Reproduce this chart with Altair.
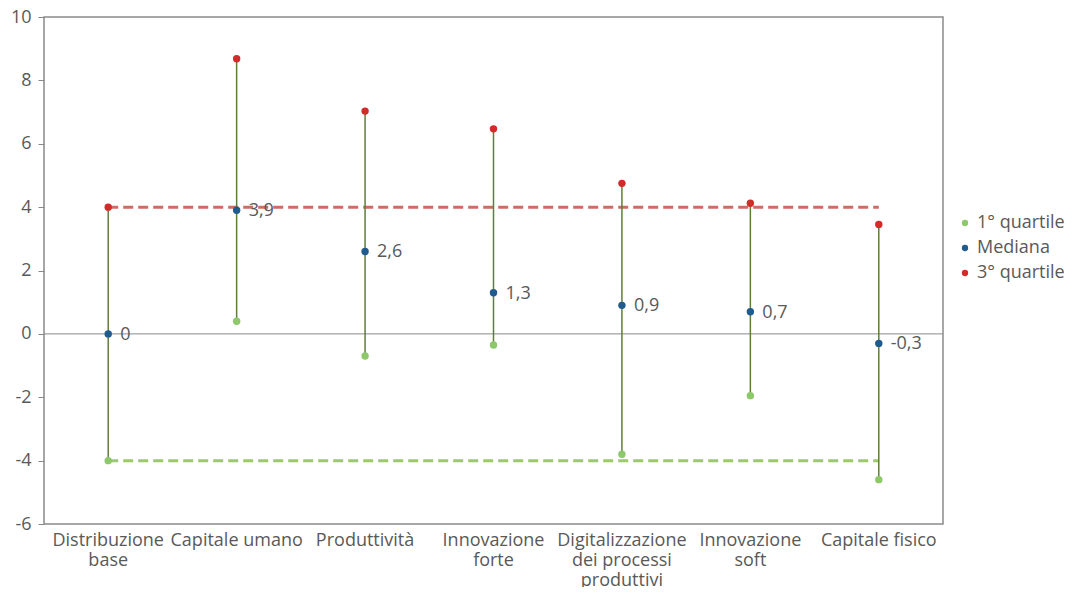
import altair as alt
import pandas as pd

categories = ["Distribuzione|base", "Capitale umano", "Produttività", "Innovazione|forte",
              "Digitalizzazione|dei processi|produttivi", "Innovazione|soft", "Capitale fisico"]
q1 = [-4.0, 0.4, -0.7, -0.35, -3.8, -1.95, -4.6]
median = [0.0, 3.9, 2.6, 1.3, 0.9, 0.7, -0.3]
q3 = [4.0, 8.68, 7.03, 6.47, 4.75, 4.12, 3.45]
median_labels = ["0", "3,9", "2,6", "1,3", "0,9", "0,7", "-0,3"]
series = ["1° quartile", "Mediana", "3° quartile"]
series_colors = ["#8dc86a", "#1f5b8e", "#d42a2a"]
ref_q3 = 4.0
ref_q1 = -4.0

wide = pd.DataFrame({"cat": categories, "q1": q1, "med": median, "q3": q3, "lab": median_labels})
wide["lo"] = wide[["q1", "q3"]].min(axis=1)
wide["hi"] = wide[["q1", "q3"]].max(axis=1)
long = pd.DataFrame({
    "cat": categories * 3,
    "serie": [series[0]] * 7 + [series[1]] * 7 + [series[2]] * 7,
    "val": q1 + median + q3,
})
refs = pd.DataFrame({
    "cat": [categories[0], categories[-1], categories[0], categories[-1]],
    "val": [ref_q3, ref_q3, ref_q1, ref_q1],
    "grp": ["r", "r", "g", "g"],
})

FONT = "Open Sans"
GRAY = "#595959"
FS = 18

xenc = alt.X("cat:N", sort=categories,
             scale=alt.Scale(paddingInner=0, paddingOuter=0),
             axis=alt.Axis(title=None, labelAngle=0, ticks=False, domain=False,
                           labelExpr="split(datum.label, '|')", labelFontSize=FS,
                           labelColor=GRAY, labelFont=FONT, labelPadding=7,
                           labelLineHeight=20, labelBaseline="top"))
yscale = alt.Scale(domain=[-6, 10])
yaxis = alt.Axis(title=None, values=list(range(-6, 11, 2)), grid=False,
                 labelFontSize=FS, labelColor=GRAY, labelFont=FONT,
                 labelExpr="'' + datum.value",
                 tickColor="#888888", tickSize=6, domain=False, labelPadding=7)


def yenc(field):
    return alt.Y(field, scale=yscale, axis=yaxis)


base = alt.Chart(wide)

zero = alt.Chart(pd.DataFrame({"v": [0]})).mark_rule(color="#8a8a8a", strokeWidth=1).encode(
    y=yenc("v:Q"))

ref_red = alt.Chart(refs[refs.grp == "r"]).mark_line(color="#cf6b63", strokeWidth=3, strokeDash=[10, 5]).encode(
    x=xenc, y=yenc("val:Q"))
ref_green = alt.Chart(refs[refs.grp == "g"]).mark_line(color="#9dca66", strokeWidth=3, strokeDash=[10, 5]).encode(
    x=xenc, y=yenc("val:Q"))

stems = base.mark_rule(color="#5f7d3b", strokeWidth=1.5).encode(
    x=xenc, y=yenc("lo:Q"), y2="hi:Q")

points = alt.Chart(long).mark_point(filled=True, shape="circle", size=55, opacity=1).encode(
    x=xenc, y=yenc("val:Q"),
    color=alt.Color("serie:N", sort=series,
                    scale=alt.Scale(domain=series, range=series_colors),
                    legend=alt.Legend(title=None, orient="none", legendX=912, legendY=197,
                                      labelFontSize=FS, labelColor=GRAY, labelFont=FONT,
                                      symbolType="circle", symbolSize=40, rowPadding=7,
                                      labelOffset=3)))

labels = base.mark_text(align="left", baseline="middle", dx=12, dy=1, fontSize=FS,
                        font=FONT, color=GRAY).encode(
    x=xenc, y=yenc("med:Q"), text="lab:N")

chart = alt.layer(zero, ref_red, ref_green, stems, points, labels).properties(
    width=899, height=507,
    autosize=alt.AutoSizeParams(type="none"),
    padding={"left": 36, "top": 9, "right": 125, "bottom": 63},
    background="white",
).configure_view(stroke="#8a8a8a", strokeWidth=1.5)

chart.save("out.html", embed_options={"renderer": "svg", "actions": False})
